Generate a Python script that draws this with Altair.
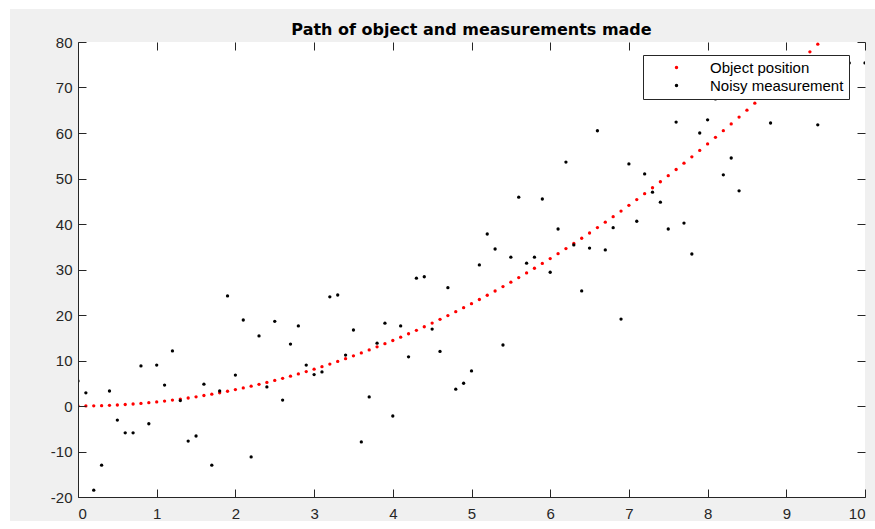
import altair as alt
import pandas as pd

# Object position (true path)
pos_x = [round(0.1 * i, 1) for i in range(95)]
pos_y = [0.0, 0.009, 0.036, 0.081, 0.144, 0.225, 0.324, 0.441, 0.576, 0.729,
         0.9, 1.089, 1.296, 1.521, 1.764, 2.025, 2.304, 2.601, 2.916, 3.249,
         3.6, 3.969, 4.356, 4.761, 5.184, 5.625, 6.084, 6.561, 7.056, 7.569,
         8.1, 8.649, 9.216, 9.801, 10.404, 11.025, 11.664, 12.321, 12.996, 13.689,
         14.4, 15.129, 15.876, 16.641, 17.424, 18.225, 19.044, 19.881, 20.736, 21.609,
         22.5, 23.409, 24.336, 25.281, 26.244, 27.225, 28.224, 29.241, 30.276, 31.329,
         32.4, 33.489, 34.596, 35.721, 36.864, 38.025, 39.204, 40.401, 41.616, 42.849,
         44.1, 45.369, 46.656, 47.961, 49.284, 50.625, 51.984, 53.361, 54.756, 56.169,
         57.6, 59.049, 60.516, 62.001, 63.504, 65.025, 66.564, 68.121, 69.696, 71.289,
         72.9, 74.529, 76.176, 77.841, 79.524]

# Noisy measurements
meas_x = [0.0, 0.1, 0.2, 0.3, 0.4, 0.5, 0.6, 0.7, 0.8, 0.9,
          1.0, 1.1, 1.2, 1.3, 1.4, 1.5, 1.6, 1.7, 1.8, 1.9,
          2.0, 2.1, 2.2, 2.3, 2.4, 2.5, 2.6, 2.7, 2.8, 2.9,
          3.0, 3.1, 3.2, 3.3, 3.4, 3.5, 3.6, 3.7, 3.8, 3.9,
          4.0, 4.1, 4.2, 4.3, 4.4, 4.5, 4.6, 4.7, 4.8, 4.9,
          5.0, 5.1, 5.2, 5.3, 5.4, 5.5, 5.6, 5.7, 5.8, 5.9,
          6.0, 6.1, 6.2, 6.3, 6.4, 6.5, 6.6, 6.7, 6.8, 6.9,
          7.0, 7.1, 7.2, 7.3, 7.4, 7.5, 7.6, 7.7, 7.8, 7.9,
          8.0, 8.1, 8.2, 8.3, 8.4, 8.8, 9.4, 9.8, 10.0]
meas_y = [5.5, 2.9, -18.5, -13.0, 3.3, -3.1, -5.9, -5.9, 8.8, -3.9,
          9.0, 4.6, 12.1, 1.2, -7.7, -6.6, 4.8, -13.0, 3.3, 24.2,
          6.8, 18.9, -11.2, 15.4, 4.2, 18.6, 1.3, 13.6, 17.6, 9.0,
          6.9, 7.5, 24.0, 24.4, 11.2, 16.7, -7.9, 2.0, 13.8, 18.2,
          -2.2, 17.6, 10.8, 28.1, 28.4, 16.9, 12.0, 26.0, 3.7, 5.0,
          7.7, 31.0, 37.8, 34.5, 13.4, 32.7, 45.9, 31.4, 32.7, 45.5,
          29.4, 38.9, 53.6, 35.4, 25.3, 34.7, 60.5, 34.3, 39.2, 19.1,
          53.2, 40.6, 51.0, 47.0, 44.8, 38.9, 62.4, 40.2, 33.4, 60.0,
          62.9, 67.5, 50.8, 54.5, 47.3, 62.2, 61.8, 75.4, 75.4]

series_names = ["Object position", "Noisy measurement"]
series_colors = ["#ff0000", "#000000"]
x_ticks = list(range(0, 11))
y_ticks = list(range(-20, 81, 10))

df = pd.concat([
    pd.DataFrame({"x": pos_x, "y": pos_y, "series": series_names[0]}),
    pd.DataFrame({"x": meas_x, "y": meas_y, "series": series_names[1]}),
], ignore_index=True)

FONT = "Liberation Sans"
W, H = 787, 455
TICK = 8
LABEL_EXPR = "replace(datum.label, '\u2212', '-')"

# figure background (grey panel with thin white margin) and white axes area
panel = alt.Chart(pd.DataFrame({"k": [0]})).mark_rect(
    color="#f0f0f0", clip=False
).encode(x=alt.value(-68), x2=alt.value(W + 10), y=alt.value(-33), y2=alt.value(H + 24))
axes_bg = alt.Chart(pd.DataFrame({"k": [0]})).mark_rect(
    color="white", clip=False
).encode(x=alt.value(0), x2=alt.value(W), y=alt.value(0), y2=alt.value(H))

points = alt.Chart(df).mark_circle(size=11, opacity=1, clip=True).encode(
    x=alt.X("x:Q",
            scale=alt.Scale(domain=[0, 10], nice=False, zero=False),
            axis=alt.Axis(values=x_ticks, title=None, ticks=False,
                          grid=True, gridColor="#262626", gridOpacity=1, gridWidth=1,
                          gridDash=[TICK, H - 2 * TICK, 3 * TICK],
                          domain=True, domainColor="#262626",
                          labelExpr=LABEL_EXPR,
                          labelFont=FONT, labelFontSize=15, labelColor="#262626",
                          labelPadding=9, zindex=1)),
    y=alt.Y("y:Q",
            scale=alt.Scale(domain=[-20, 80], nice=False, zero=False),
            axis=alt.Axis(values=y_ticks, title=None, ticks=False,
                          grid=True, gridColor="#262626", gridOpacity=1, gridWidth=1,
                          gridDash=[TICK, W - 2 * TICK, 3 * TICK],
                          domain=True, domainColor="#262626",
                          labelExpr=LABEL_EXPR,
                          labelFont=FONT, labelFontSize=15, labelColor="#262626",
                          labelPadding=6, zindex=1)),
    color=alt.Color("series:N",
                    scale=alt.Scale(domain=series_names, range=series_colors),
                    sort=series_names,
                    legend=alt.Legend(title=None, orient="none", legendX=565, legendY=13,
                                      fillColor="white", strokeColor="#262626",
                                      padding=5, symbolType="circle", symbolSize=12,
                                      symbolOffset=21, labelOffset=26,
                                      labelFont=FONT, labelFontSize=15, labelColor="#000000",
                                      rowPadding=2, zindex=2)),
)

chart = alt.layer(panel, axes_bg, points).properties(
    width=W, height=H,
    title=alt.TitleParams("Path of object and measurements made", font="DejaVu Sans",
                          fontSize=16, fontWeight="bold", color="#000000",
                          anchor="middle", frame="group", offset=-29),
    padding={"left": 78, "top": 42, "right": 10, "bottom": 32},
    autosize=alt.AutoSizeParams(type="none"),
    background="white",
).configure_view(stroke="#262626", strokeWidth=1)

chart.save("out.html", embed_options={"renderer": "svg", "actions": False})
